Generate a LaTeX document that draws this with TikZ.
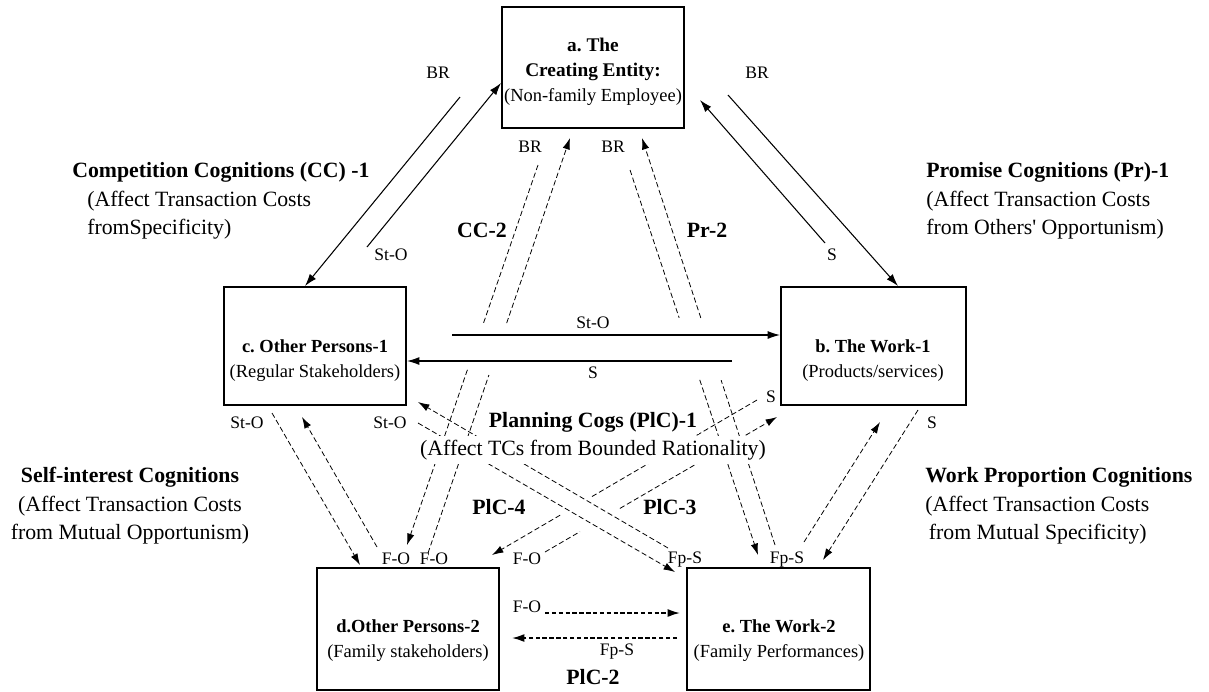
\documentclass[tikz,border=0pt]{standalone}
\usepackage{fontspec}
\setmainfont{Liberation Serif}
\usetikzlibrary{arrows.meta,calc}
\frenchspacing

\newcommand{\hdfont}{\fontsize{12.4}{16.2}\selectfont}
\newcommand{\bxfont}{\fontsize{10.5}{14.2}\selectfont}
\newcommand{\lbfont}{\fontsize{10}{12}\selectfont}
\newcommand{\abold}[1]{{\fontsize{11}{14.6}\selectfont\bfseries #1}}

\tikzset{
  box/.style={draw, line width=0.8pt, inner sep=0pt},
  boxtext/.style={align=center, font=\bxfont, inner sep=0pt},
  tag/.style={font=\lbfont, inner sep=1pt},
  heading/.style={font=\hdfont, inner sep=0pt},
  plc/.style={font=\hdfont\bfseries, inner sep=1pt},
  solidarr/.style={line width=0.6pt, -{Latex[length=7pt,width=4.5pt]}},
  dasharr/.style={line width=0.45pt, dash pattern=on 3pt off 1.6pt, -{Latex[length=6.5pt,width=4.2pt]}},
  boldarr/.style={line width=0.9pt, dash pattern=on 2.5pt off 1.4pt, -{Latex[length=7pt,width=4.5pt]}},
}

\begin{document}
\begin{tikzpicture}[x=0.02cm, y=-0.02cm]
        \useasboundingbox (0,0) rectangle (1209,691);

        % the five boxes
        \node[box, minimum width=3.64cm, minimum height=2.42cm] (a) at (593,67.5) {};
        \node[box, minimum width=3.70cm, minimum height=2.36cm] (b) at (873.5,346) {};
        \node[box, minimum width=3.64cm, minimum height=2.36cm] (c) at (315,346) {};
        \node[box, minimum width=3.64cm, minimum height=2.44cm] (d) at (408,629) {};
        \node[box, minimum width=3.66cm, minimum height=2.44cm] (e) at (778.5,629) {};

        \node[boxtext] (a-txt) at (593,72) {\abold{a. The}\\\abold{Creating Entity:}\\(Non-family Employee)};
        \node[boxtext] (b-txt) at (873,361) {\textbf{b. The Work-1}\\(Products/services)};
        \node[boxtext] (c-txt) at (315,361) {\textbf{c. Other Persons-1}\\(Regular Stakeholders)};
        \node[boxtext] (d-txt) at (408,641) {\textbf{d.Other Persons-2}\\(Family stakeholders)};
        \node[boxtext] (e-txt) at (779,641) {\textbf{e. The Work-2}\\(Family Performances)};

        % headings
        \node[heading, anchor=west, align=left] (cc1) at (72,201) {\textbf{Competition Cognitions (CC) -1}\\\hspace*{8.5pt}(Affect Transaction Costs\\\hspace*{8.5pt}fromSpecificity)};
        \node[heading, anchor=west, align=left] (pr1) at (926,201) {\textbf{Promise Cognitions (Pr)-1}\\(Affect Transaction Costs\\from Others\textquotesingle{} Opportunism)};
        \node[heading, align=center] (si) at (130,506) {\textbf{Self-interest Cognitions}\\(Affect Transaction Costs\\from Mutual Opportunism)};
        \node[heading, anchor=west, align=left] (wp) at (925,506) {\textbf{Work Proportion Cognitions}\\(Affect Transaction Costs\\\hspace*{2pt}from Mutual Specificity)};

        \node[plc] (cc2) at (482,230) {CC-2};
        \node[plc] (pr2) at (707,230) {Pr-2};
        \node[plc] (plc4) at (499,507) {PlC-4};
        \node[plc] (plc3) at (670,507) {PlC-3};
        \node[plc] (plc2) at (593,677) {PlC-2};

        % free ends of the connectors
        \coordinate (cc-a) at (460,97);    \coordinate (cc-c) at (305,286);
        \coordinate (cc-c2) at (367,247);  \coordinate (cc-a2) at (501,83);
        \coordinate (pr-a) at (728,95);    \coordinate (pr-b) at (898,286);
        \coordinate (pr-b2) at (825,243);  \coordinate (pr-a2) at (700,100);
        \coordinate (st-c) at (452,335);   \coordinate (st-b) at (780,335);
        \coordinate (s-b) at (732,361);    \coordinate (s-c) at (407,361);
        \coordinate (cc2-d) at (428,553);  \coordinate (cc2-a) at (570,138);
        \coordinate (cc2-a2) at (538,165); \coordinate (cc2-d2) at (407,545);
        \coordinate (pr2-e) at (775,545);  \coordinate (pr2-a) at (642,138);
        \coordinate (pr2-a2) at (630,170); \coordinate (pr2-e2) at (758,555);
        \coordinate (si-c) at (272,413);   \coordinate (si-d) at (360,565);
        \coordinate (si-d2) at (377,547);  \coordinate (si-c2) at (302,417);
        \coordinate (pl-e) at (668,548);   \coordinate (pl-c) at (418,402);
        \coordinate (pl-c2) at (418,423);  \coordinate (pl-e2) at (675,572);
        \coordinate (pl-b) at (757,400);   \coordinate (pl-d) at (492,555);
        \coordinate (pl-d2) at (545,552);  \coordinate (pl-b2) at (777,417);
        \coordinate (wp-e) at (804,542);   \coordinate (wp-b) at (880,422);
        \coordinate (wp-b2) at (918,410);  \coordinate (wp-e2) at (823,560);
        \coordinate (p2-d) at (545,613);   \coordinate (p2-e) at (680,613);
        \coordinate (p2-e2) at (677,638);  \coordinate (p2-d2) at (512,638);

        % CC-1 and Pr-1
        \draw[solidarr] (cc-a) -- (cc-c);
        \draw[solidarr] (cc-c2) -- (cc-a2);
        \draw[solidarr] (pr-a) -- (pr-b);
        \draw[solidarr] (pr-b2) -- (pr-a2);
        \draw[solidarr] (st-c) -- (st-b);
        \draw[solidarr] (s-b) -- (s-c);

        % CC-2 and Pr-2, broken where they pass the middle arrows
        \draw[dasharr] (cc2-d) -- ($(cc2-d)!0.429!(cc2-a)$) ($(cc2-d)!0.554!(cc2-a)$) -- (cc2-a);
        \draw[dasharr] (cc2-a2) -- ($(cc2-a2)!0.416!(cc2-d2)$) ($(cc2-a2)!0.539!(cc2-d2)$) -- (cc2-d2);
        \draw[dasharr] (pr2-e) -- ($(pr2-e)!0.405!(pr2-a)$) ($(pr2-e)!0.558!(pr2-a)$) -- (pr2-a);
        \draw[dasharr] (pr2-a2) -- ($(pr2-a2)!0.384!(pr2-e2)$) ($(pr2-a2)!0.545!(pr2-e2)$) -- (pr2-e2);

        % self-interest and work proportion
        \draw[dasharr] (si-c) -- (si-d);
        \draw[dasharr] (si-d2) -- (si-c2);
        \draw[dasharr] (wp-e) -- (wp-b);
        \draw[dasharr] (wp-b2) -- (wp-e2);

        % PlC-3 / PlC-4 crossings
        \draw[dasharr] (pl-e) -- (pl-c);
        \draw[dasharr] (pl-c2) -- (pl-e2);
        \draw[dasharr] (pl-b) -- ($(pl-b)!0.623!(pl-d)$) ($(pl-b)!0.743!(pl-d)$) -- (pl-d);
        \draw[dasharr] (pl-d2) -- ($(pl-d2)!0.151!(pl-b2)$) ($(pl-d2)!0.323!(pl-b2)$) -- (pl-b2);

        % PlC-2
        \draw[boldarr] (p2-d) -- (p2-e);
        \draw[boldarr] (p2-e2) -- (p2-d2);

        % end labels
        \node[tag] (br1) at (438,73) {BR};
        \node[tag] (br2) at (757,73) {BR};
        \node[tag] (br3) at (530,147) {BR};
        \node[tag] (br4) at (613,147) {BR};
        \node[tag] (sto1) at (391,255) {St-O};
        \node[tag] (sto2) at (593,323) {St-O};
        \node[tag] (sto3) at (247,423) {St-O};
        \node[tag] (sto4) at (390,423) {St-O};
        \node[tag] (s1) at (832,255) {S};
        \node[tag] (s2) at (593,373) {S};
        \node[tag] (s3) at (771,397) {S};
        \node[tag] (s4) at (932,423) {S};
        \node[tag] (fo1) at (396,559) {F-O};
        \node[tag] (fo2) at (434,559) {F-O};
        \node[tag] (fo3) at (527,559) {F-O};
        \node[tag] (fo4) at (527,607) {F-O};
        \node[tag] (fps1) at (685,560) {Fp-S};
        \node[tag] (fps2) at (787,560) {Fp-S};
        \node[tag] (fps3) at (617,652) {Fp-S};

        % planning heading sits over the crossing lines
        \node[plc, fill=white] (plc1) at (593,422) {Planning Cogs (PlC)-1};
        \node[heading, fill=white, inner sep=2pt] (plc1-sub) at (593,450) {(Affect TCs from Bounded Rationality)};
\end{tikzpicture}
\end{document}
